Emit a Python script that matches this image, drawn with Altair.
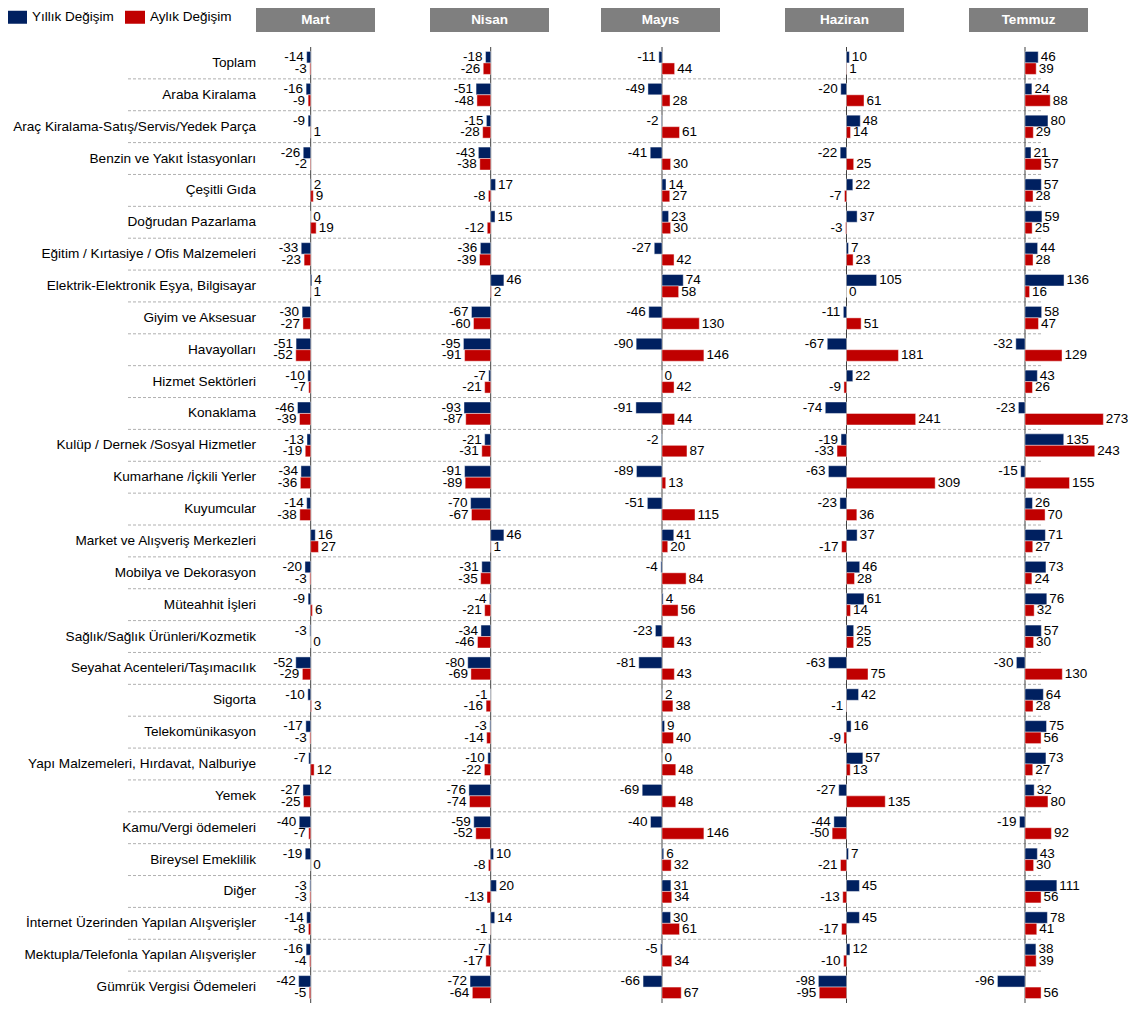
import altair as alt
import pandas as pd

# ---------------- data ----------------
months = ["Mart", "Nisan", "Mayıs", "Haziran", "Temmuz"]
series_names = ["Yıllık Değişim", "Aylık Değişim"]

categories = [
    "Toplam",
    "Araba Kiralama",
    "Araç Kiralama-Satış/Servis/Yedek Parça",
    "Benzin ve Yakıt İstasyonları",
    "Çeşitli Gıda",
    "Doğrudan Pazarlama",
    "Eğitim / Kırtasiye / Ofis Malzemeleri",
    "Elektrik-Elektronik Eşya, Bilgisayar",
    "Giyim ve Aksesuar",
    "Havayolları",
    "Hizmet Sektörleri",
    "Konaklama",
    "Kulüp / Dernek /Sosyal Hizmetler",
    "Kumarhane /İçkili Yerler",
    "Kuyumcular",
    "Market ve Alışveriş Merkezleri",
    "Mobilya ve Dekorasyon",
    "Müteahhit İşleri",
    "Sağlık/Sağlık Ürünleri/Kozmetik",
    "Seyahat Acenteleri/Taşımacılık",
    "Sigorta",
    "Telekomünikasyon",
    "Yapı Malzemeleri, Hırdavat, Nalburiye",
    "Yemek",
    "Kamu/Vergi ödemeleri",
    "Bireysel Emeklilik",
    "Diğer",
    "İnternet Üzerinden Yapılan Alışverişler",
    "Mektupla/Telefonla Yapılan Alışverişler",
    "Gümrük Vergisi Ödemeleri",
]

yillik_mart    = [-14, -16, -9, -26, 2, 0, -33, 4, -30, -51, -10, -46, -13, -34, -14, 16, -20, -9, -3, -52, -10, -17, -7, -27, -40, -19, -3, -14, -16, -42]
aylik_mart     = [-3, -9, 1, -2, 9, 19, -23, 1, -27, -52, -7, -39, -19, -36, -38, 27, -3, 6, 0, -29, 3, -3, 12, -25, -7, 0, -3, -8, -4, -5]
yillik_nisan   = [-18, -51, -15, -43, 17, 15, -36, 46, -67, -95, -7, -93, -21, -91, -70, 46, -31, -4, -34, -80, -1, -3, -10, -76, -59, 10, 20, 14, -7, -72]
aylik_nisan    = [-26, -48, -28, -38, -8, -12, -39, 2, -60, -91, -21, -87, -31, -89, -67, 1, -35, -21, -46, -69, -16, -14, -22, -74, -52, -8, -13, -1, -17, -64]
yillik_mayis   = [-11, -49, -2, -41, 14, 23, -27, 74, -46, -90, 0, -91, -2, -89, -51, 41, -4, 4, -23, -81, 2, 9, 0, -69, -40, 6, 31, 30, -5, -66]
aylik_mayis    = [44, 28, 61, 30, 27, 30, 42, 58, 130, 146, 42, 44, 87, 13, 115, 20, 84, 56, 43, 43, 38, 40, 48, 48, 146, 32, 34, 61, 34, 67]
yillik_haziran = [10, -20, 48, -22, 22, 37, 7, 105, -11, -67, 22, -74, -19, -63, -23, 37, 46, 61, 25, -63, 42, 16, 57, -27, -44, 7, 45, 45, 12, -98]
aylik_haziran  = [1, 61, 14, 25, -7, -3, 23, 0, 51, 181, -9, 241, -33, 309, 36, -17, 28, 14, 25, 75, -1, -9, 13, 135, -50, -21, -13, -17, -10, -95]
yillik_temmuz  = [46, 24, 80, 21, 57, 59, 44, 136, 58, -32, 43, -23, 135, -15, 26, 71, 73, 76, 57, -30, 64, 75, 73, 32, -19, 43, 111, 78, 38, -96]
aylik_temmuz   = [39, 88, 29, 57, 28, 25, 28, 16, 47, 129, 26, 273, 243, 155, 70, 27, 24, 32, 30, 130, 28, 56, 27, 80, 92, 30, 56, 41, 39, 56]

yillik = [yillik_mart, yillik_nisan, yillik_mayis, yillik_haziran, yillik_temmuz]
aylik = [aylik_mart, aylik_nisan, aylik_mayis, aylik_haziran, aylik_temmuz]

# ---------------- layout ----------------
W, H = 1000, 956
PAD_L, PAD_T = 120, 39
PLOT_X0 = 8 + PAD_L              # page x of plot left edge
PLOT_Y0 = 8 + PAD_T              # page y of plot top edge
K = 0.287                        # px per percentage point
zero_px = [310.7, 490.7, 662.0, 846.5, 1025.0]     # page x of each panel's zero line
header_px = [315.5, 489.5, 660.5, 844.5, 1028.5]   # page x of each header centre
HEADER_HALF = 59.5


def px_to_unit(px):
    return (px - zero_px[0]) / K


offsets = [px_to_unit(p) for p in zero_px]
x_domain = [px_to_unit(PLOT_X0), px_to_unit(PLOT_X0 + W)]

rows = []
for mi, m in enumerate(months):
    for ci, c in enumerate(categories):
        for s, vals in zip(series_names, (yillik[mi], aylik[mi])):
            v = vals[ci]
            rows.append({"category": c, "month": m, "series": s, "value": v,
                         "label": str(v),
                         "base": offsets[mi], "pos": offsets[mi] + v})
df = pd.DataFrame(rows)

zero_df = pd.DataFrame({"month": months, "base": offsets})
head_df = pd.DataFrame({
    "month": months,
    "lo": [px_to_unit(p - HEADER_HALF) for p in header_px],
    "hi": [px_to_unit(p + HEADER_HALF) for p in header_px],
    "mid": [px_to_unit(p) for p in header_px],
})
sep_df = pd.DataFrame({"b": list(range(1, len(categories)))})
cat_df = pd.DataFrame({"category": categories})

FONT = "Liberation Sans"
x_scale = alt.Scale(domain=x_domain, nice=False, zero=False)
y_band = alt.Scale(domain=categories, paddingInner=0.28, paddingOuter=0.14)
yoff = alt.YOffset("series:N", sort=series_names,
                   scale=alt.Scale(domain=series_names, paddingInner=0, paddingOuter=0))

# separators (dashed)
sep = alt.Chart(sep_df).mark_rule(color="#b0b0b0", strokeDash=[3, 2], strokeWidth=1).encode(
    y=alt.Y("b:Q", scale=alt.Scale(domain=[0, len(categories)], reverse=True, nice=False, zero=False), axis=None),
    x=alt.value(0),
    x2=alt.value(914),
)

# zero lines
zero = alt.Chart(zero_df).mark_rule(color="#404040", strokeWidth=1).encode(
    x=alt.X("base:Q", scale=x_scale, axis=None),
    y=alt.value(0),
    y2=alt.value(H),
)

bars = alt.Chart(df).mark_bar(stroke="white", strokeWidth=0.8, strokeOpacity=0.55).encode(
    y=alt.Y("category:N", scale=y_band, axis=None, sort=categories),
    yOffset=yoff,
    x=alt.X("pos:Q", scale=x_scale, axis=None),
    x2="base:Q",
    color=alt.Color(
        "series:N",
        scale=alt.Scale(domain=series_names, range=["#002060", "#C00000"]),
        legend=alt.Legend(
            title=None, orient="none", legendX=-121, legendY=-40, direction="horizontal",
            columns=2, padding=0, columnPadding=11, labelOffset=5,
            symbolType="M-1,-0.65H1V0.65H-1Z", symbolSize=400, symbolStrokeWidth=0,
            symbolOpacity=1, labelFont=FONT, labelFontSize=13.5, labelColor="#000000",
        ),
    ),
)

label_base = alt.Chart(df).encode(
    y=alt.Y("category:N", scale=y_band, axis=None, sort=categories),
    yOffset=yoff,
    x=alt.X("pos:Q", scale=x_scale, axis=None),
    text="label:N",
)
pos_labels = label_base.transform_filter("datum.value >= 0").mark_text(
    align="left", baseline="middle", dx=2.5, font=FONT, fontSize=13.5, color="#000000")
neg_labels = label_base.transform_filter("datum.value < 0").mark_text(
    align="right", baseline="middle", dx=-3, font=FONT, fontSize=13.5, color="#000000")

cat_labels = alt.Chart(cat_df).mark_text(
    align="right", baseline="middle", font=FONT, fontSize=13.6, color="#000000").encode(
    y=alt.Y("category:N", scale=y_band, axis=None, sort=categories),
    x=alt.value(256 - PLOT_X0),
    text="category:N",
)

head_rect = alt.Chart(head_df).mark_rect(color="#7f7f7f").encode(
    x=alt.X("lo:Q", scale=x_scale, axis=None),
    x2="hi:Q",
    y=alt.value(8 - PLOT_Y0),
    y2=alt.value(32 - PLOT_Y0),
)
head_text = alt.Chart(head_df).mark_text(
    color="white", font=FONT, fontSize=13.5, fontWeight="bold", baseline="middle").encode(
    x=alt.X("mid:Q", scale=x_scale, axis=None),
    y=alt.value(20 - PLOT_Y0),
    text="month:N",
)

chart = alt.layer(
    sep, zero, bars, pos_labels, neg_labels, cat_labels, head_rect, head_text
).resolve_scale(y="independent").properties(
    width=W, height=H,
    autosize=alt.AutoSizeParams(type="none"),
    padding={"left": PAD_L, "top": PAD_T, "right": 0, "bottom": 0},
).configure_view(stroke="transparent")

chart.save("out.html", embed_options={"renderer": "svg", "actions": False})
